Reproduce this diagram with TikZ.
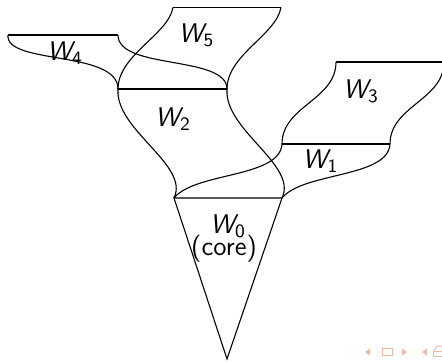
\documentclass[tikz,border=0pt]{standalone}
\usepackage{amsmath}
\usepackage{tikz}
\definecolor{navcol}{RGB}{236,186,166}

\begin{document}
\begin{tikzpicture}[x=5pt, y=5pt, line width=0.55pt, font=\sffamily\fontsize{13.5}{15}\selectfont]
	\tikzset{lbl/.style={inner sep=0pt, anchor=base}, navbox/.style={navcol, line width=0.5pt}}
	\useasboundingbox (0,0) rectangle (44.2,36.1);
	\coordinate (t0l) at (17.4,16.3);
	\coordinate (t0r) at (28.2,16.3);
	\coordinate (tip) at (22.7,0.2);
	\coordinate (t2l) at (11.8,27.2);
	\coordinate (t2r) at (22.7,27.2);
	\coordinate (t1l) at (28.2,21.7);
	\coordinate (t1r) at (39.0,21.7);
	\coordinate (t3l) at (33.6,29.9);
	\coordinate (t3r) at (44.4,29.9);
	\coordinate (t5l) at (17.3,35.35);
	\coordinate (t5r) at (28.1,35.35);
	\coordinate (t4l) at (0.8,32.6);
	\coordinate (t4r) at (11.8,32.6);
	\draw (t0l) -- (t0r) -- (tip) -- cycle;
	\draw (t2l) -- (t2r);
	\draw (t2l) .. controls +(-0.3,-4.1) and +(1.6,3.3) .. (t0l);
	\draw (t2r) .. controls +(-0.3,-4.1) and +(1.6,3.3) .. (t0r);
	\draw (t1l) -- (t1r);
	\draw (t1l) .. controls +(-0.2,-3.4) and +(2.1,2.6) .. (t0l);
	\draw (t1r) .. controls +(-0.2,-3.4) and +(2.1,2.6) .. (t0r);
	\draw (t3l) -- (t3r);
	\draw (t3l) .. controls +(0,-3.8) and +(0,3.8) .. (t1l);
	\draw (t3r) .. controls +(0,-3.8) and +(0,3.8) .. (t1r);
	\draw (t5l) -- (t5r);
	\draw (t5l) .. controls +(-0.5,-2.75) and +(0,3.4) .. (t2l);
	\draw (t5r) .. controls +(-0.5,-2.75) and +(0,3.4) .. (t2r);
	\draw (t4l) -- (t4r);
	\draw (t4l) .. controls +(-0.3,-3.0) and +(0,3.9) .. (t2l);
	\draw (t4r) .. controls +(0,-3.5) and +(0,3.4) .. (t2r);
	\node[lbl] (w5) at (19.65,31.9) {$\textsf{\itshape W}_{\textsf{5}}$};
	\node[lbl] (w4) at (6.5,30.1) {$\textsf{\itshape W}_{\textsf{4}}$};
	\node[lbl] (w2) at (17.3,23.5) {$\textsf{\itshape W}_{\textsf{2}}$};
	\node[lbl] (w3) at (36.1,26.3) {$\textsf{\itshape W}_{\textsf{3}}$};
	\node[lbl] (w1) at (32.05,19.3) {$\textsf{\itshape W}_{\textsf{1}}$};
	\node[lbl] (w0) at (22.8,12.8) {$\textsf{\itshape W}_{\textsf{0}}$};
	\node[lbl] (core) at (22.4,10.6) {(core)};
	\fill[navcol] (36.5,0.9) -- (37.0,1.25) -- (37.0,0.55) -- cycle;
	\draw[navbox] (38.2,0.55) rectangle (39.2,1.25);
	\fill[navcol] (40.7,0.9) -- (40.2,1.25) -- (40.2,0.55) -- cycle;
	\fill[navcol] (42.2,0.9) -- (42.7,1.25) -- (42.7,0.55) -- cycle;
	\draw[navbox] (43.3,0.5) rectangle (44.3,1.0);
	\draw[navbox] (43.4,1.0) -- (43.7,1.5) -- (44.3,1.5);
\end{tikzpicture}
\end{document}
